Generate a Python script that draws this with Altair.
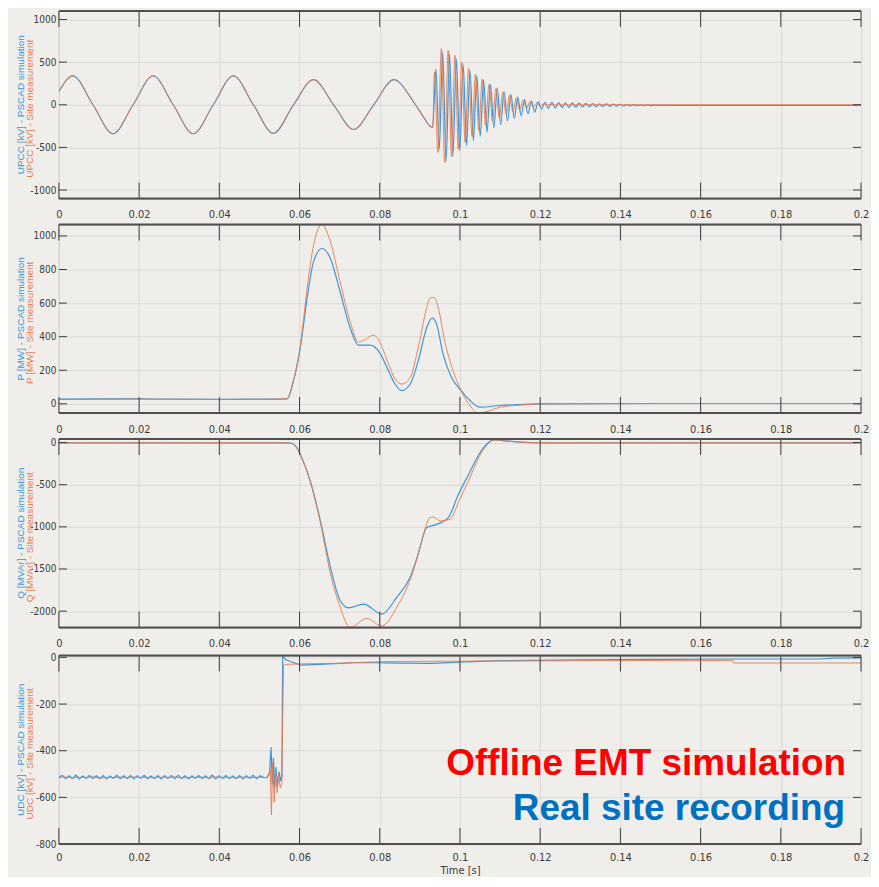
import altair as alt
import pandas as pd

BLUE = "#4095D7"
ORANGE = "#E87A4C"
BG = "#EFEEEB"
GRID = "#DADADA"
DARK = "#505050"
TICKC = "#3C3C3C"
LABC = "#3A3A3A"
FONT = "Liberation Sans Narrow, DejaVu Sans Condensed, Liberation Sans, sans-serif"

W = 804
HEIGHTS = [188, 189, 189, 189]
X_TICKS = [0, 0.02, 0.04, 0.06, 0.08, 0.1, 0.12, 0.14, 0.16, 0.18, 0.2]

# ---------------- Panel 1 : UPCC [kV] ----------------
PRE1_T = [0.0, 0.0035, 0.0085, 0.0135, 0.0185, 0.0235, 0.0285, 0.0335, 0.0385, 0.0435,
          0.0485, 0.0535, 0.0585, 0.0635, 0.0685, 0.0735, 0.0785, 0.0835, 0.0885, 0.0910,
          0.0925, 0.0932]
PRE1_V = [155, 340, 0, -340, 0, 340, 0, -340, 0, 340,
          0, -335, 0, 295, 0, -290, 0, 295, 30, -150,
          -250, -265]

OSC1_SIM_T = [0.0940, 0.09485, 0.0957, 0.09655, 0.0974, 0.09825, 0.0991, 0.09995, 0.1008, 0.10165,
              0.1025, 0.10335, 0.1042, 0.10505, 0.1059, 0.10675, 0.1076, 0.10845, 0.1093, 0.11015,
              0.1110, 0.11185, 0.1127, 0.11355, 0.1144, 0.11525, 0.1161, 0.11695, 0.1178, 0.11865,
              0.1195, 0.12035, 0.1212, 0.12205, 0.1229, 0.12375, 0.1246, 0.12545, 0.1263, 0.12715,
              0.1280, 0.12885, 0.1297, 0.13055, 0.1314, 0.13225, 0.1331, 0.13395, 0.1348, 0.13565,
              0.1365, 0.13735, 0.1382, 0.13905, 0.1399, 0.14075, 0.1416, 0.14245, 0.1433, 0.14415,
              0.1450, 0.14585, 0.1467, 0.14755, 0.1484, 0.14925, 0.1501, 0.15095, 0.1518, 0.1530,
              0.16, 0.18, 0.2]
OSC1_SIM_V = [420, -520, 620, -660, 600, -600, 540, -540, 470, -480,
              400, -420, 340, -370, 290, -320, 240, -270, 195, -230,
              155, -190, 120, -160, 90, -130, 65, -105, 45, -85,
              35, -50, 30, -42, 28, -36, 26, -32, 24, -30,
              22, -28, 20, -26, 18, -24, 15, -22, 12, -20,
              10, -18, 8, -16, 6, -14, 4, -12, 2, -11,
              0, -10, -2, -9, -3, -8, -4, -8, -5, -7,
              -6, -6, -6]

OSC1_MEAS_T = [0.09365, 0.0945, 0.09535, 0.0962, 0.09705, 0.0979, 0.09875, 0.0996, 0.10045, 0.1013,
               0.10215, 0.1030, 0.10385, 0.1047, 0.10555, 0.1064, 0.10725, 0.1081, 0.10895, 0.1098,
               0.11065, 0.1115, 0.11235, 0.1132, 0.11405, 0.1149, 0.11575, 0.1166, 0.11745, 0.1183,
               0.11915, 0.1200, 0.12085, 0.1217, 0.12255, 0.1234, 0.1245, 0.2]
OSC1_MEAS_V = [380, -560, 660, -680, 640, -610, 580, -520, 500, -440,
               430, -370, 360, -300, 300, -240, 240, -190, 190, -150,
               145, -115, 110, -85, 80, -60, 55, -40, 35, -25,
               20, -14, 10, -6, 4, -2, 0, 0]

# ---------------- Panel 2 : P [MW] ----------------
P_SIM_T = [0.0, 0.01, 0.02, 0.03, 0.04, 0.05, 0.0569, 0.0585, 0.0602, 0.0619,
           0.0635, 0.0656, 0.0677, 0.0701, 0.0726, 0.0747, 0.0776, 0.0797, 0.0818, 0.0838,
           0.0855, 0.0876, 0.0896, 0.0917, 0.0931, 0.0942, 0.0958, 0.0979, 0.1003, 0.1025,
           0.1050, 0.11, 0.115, 0.12, 0.15, 0.2]
P_SIM_V = [28, 29, 30, 28, 27, 28, 30, 138, 335, 630,
           847, 925, 866, 669, 453, 350, 350, 315, 217, 118,
           79, 118, 256, 453, 512, 472, 295, 157, 79, 20,
           -20, -10, -4, 0, 2, 2]

P_MEAS_T = [0.0, 0.01, 0.02, 0.03, 0.04, 0.05, 0.0569, 0.0585, 0.0602, 0.0619,
            0.0635, 0.0656, 0.0677, 0.0701, 0.0726, 0.0747, 0.0764, 0.0784, 0.0801, 0.0822,
            0.0838, 0.0855, 0.0876, 0.0896, 0.0917, 0.0925, 0.0935, 0.0946, 0.0962, 0.0983,
            0.1003, 0.1025, 0.1045, 0.1075, 0.11, 0.115, 0.12, 0.15, 0.2]
P_MEAS_V = [26, 27, 28, 27, 26, 27, 30, 140, 345, 689,
            945, 1067, 965, 728, 492, 368, 384, 409, 364, 236,
            148, 118, 157, 335, 571, 630, 634, 571, 374, 197,
            79, -10, -55, -40, -20, -8, 0, 2, 2]

# ---------------- Panel 3 : Q [MVAr] ----------------
Q_SIM_T = [0.0, 0.02, 0.04, 0.055, 0.0577, 0.0594, 0.0606, 0.0627, 0.0652, 0.0677,
           0.0701, 0.0722, 0.0760, 0.0805, 0.0843, 0.0876, 0.0896, 0.0917, 0.0938, 0.0971,
           0.0996, 0.1017, 0.1058, 0.1083, 0.11, 0.115, 0.12, 0.16, 0.2]
Q_SIM_V = [-4, -5, -4, -4, -8, -67, -185, -459, -929, -1478,
           -1871, -1961, -1918, -2035, -1832, -1596, -1322, -1008, -977, -890,
           -616, -420, -67, 31, 25, 5, -3, -4, -4]

Q_MEAS_T = [0.0, 0.02, 0.04, 0.055, 0.0577, 0.0594, 0.0606, 0.0627, 0.0652, 0.0677,
            0.0701, 0.0726, 0.0768, 0.0805, 0.0843, 0.0884, 0.0905, 0.0925, 0.0933, 0.0950,
            0.0975, 0.0999, 0.1017, 0.1058, 0.1087, 0.11, 0.115, 0.12, 0.16, 0.2]
Q_MEAS_V = [-2, -3, -2, -3, -8, -67, -185, -465, -950, -1557,
            -1949, -2193, -2087, -2176, -1949, -1517, -1165, -890, -882, -929,
            -910, -675, -498, -87, 31, 25, 5, -2, -3, -3]

# ---------------- Panel 4 : UDC [kV] ----------------
RIPPLE_SIM_T0 = 0.0
RIPPLE_SIM_DT = 0.00085
RIPPLE_SIM_V = [-513, -506, -520, -507, -519, -505, -521, -508, -518, -506,
                -520, -507, -519, -506, -521, -508, -518, -505, -520, -507,
                -519, -506, -521, -507, -518, -505, -520, -508, -519, -506,
                -521, -507, -518, -506, -520, -505, -519, -507, -521, -508,
                -518, -506, -520, -507, -519, -505, -521, -507, -518, -506,
                -520, -508, -519, -506, -521, -507, -518, -505, -520, -507,
                -514]
U_SIM_TAIL_T = [0.0518, 0.0525, 0.0529, 0.0532, 0.0535, 0.0538, 0.0541, 0.0545, 0.0549, 0.0553,
                0.0556, 0.0558, 0.0566, 0.0585, 0.0602, 0.065, 0.075, 0.085, 0.093, 0.1,
                0.11, 0.13, 0.15, 0.17, 0.19, 0.193, 0.2]
U_SIM_TAIL_V = [-515, -500, -385, -545, -430, -560, -470, -550, -490, -530,
                -505, 5, -10, -22, -33, -30, -22, -25, -26, -20,
                -14, -11, -9, -7, -7, -3, -2]

RIPPLE_MEAS_T0 = 0.0
RIPPLE_MEAS_DT = 0.0017
RIPPLE_MEAS_V = [-515, -512, -517, -513, -516, -512, -518, -514, -516, -513,
                 -517, -512, -516, -514, -517, -513, -516, -512, -517, -514,
                 -516, -513, -518, -512, -516, -514, -517, -513, -516, -514,
                 -515]
U_MEAS_TAIL_T = [0.0520, 0.0527, 0.0530, 0.0533, 0.0537, 0.0540, 0.0544, 0.0548, 0.0552, 0.0556,
                 0.0558, 0.0560, 0.0566, 0.06, 0.07, 0.081, 0.09, 0.1, 0.12, 0.14,
                 0.168, 0.1682, 0.2]
U_MEAS_TAIL_V = [-515, -480, -675, -450, -620, -480, -580, -500, -560, -540,
                 -280, -35, -30, -28, -25, -18, -17, -16, -15, -14,
                 -14, -24, -24]

PANELS = [
    dict(t_sim=PRE1_T + OSC1_SIM_T, v_sim=PRE1_V + OSC1_SIM_V,
         t_meas=PRE1_T + OSC1_MEAS_T, v_meas=PRE1_V + OSC1_MEAS_V,
         ydom=[-1100, 1100], yticks=[-1000, -500, 0, 500, 1000],
         name="UPCC [kV]", interp="monotone"),
    dict(t_sim=P_SIM_T, v_sim=P_SIM_V, t_meas=P_MEAS_T, v_meas=P_MEAS_V,
         ydom=[-55, 1068], yticks=[0, 200, 400, 600, 800, 1000],
         name="P [MW]", interp="monotone"),
    dict(t_sim=Q_SIM_T, v_sim=Q_SIM_V, t_meas=Q_MEAS_T, v_meas=Q_MEAS_V,
         ydom=[-2195, 42], yticks=[-2000, -1500, -1000, -500, 0],
         name="Q [MVAr]", interp="monotone"),
    dict(t_sim=[round(RIPPLE_SIM_T0 + i * RIPPLE_SIM_DT, 6) for i in range(len(RIPPLE_SIM_V))] + U_SIM_TAIL_T,
         v_sim=RIPPLE_SIM_V + U_SIM_TAIL_V,
         t_meas=[round(RIPPLE_MEAS_T0 + i * RIPPLE_MEAS_DT, 6) for i in range(len(RIPPLE_MEAS_V))] + U_MEAS_TAIL_T,
         v_meas=RIPPLE_MEAS_V + U_MEAS_TAIL_V,
         ydom=[-800, 8], yticks=[-800, -600, -400, -200, 0],
         name="UDC [kV]", interp="linear"),
]

ANNOT_1 = "Offline EMT simulation"
ANNOT_2 = "Real site recording"

one = pd.DataFrame({"a": [0]})
xt_df = pd.DataFrame({"t": X_TICKS})


def make_panel(p, h, last):
    xscale = alt.Scale(domain=[0, 0.2], nice=False, zero=False)
    yscale = alt.Scale(domain=p["ydom"], nice=False, zero=False)
    xaxis_kw = dict(values=X_TICKS, labelExpr="'' + datum.value", grid=True, gridColor=GRID,
                    gridWidth=1, ticks=False, tickSize=0, domain=False,
                    labelPadding=7 if last else 10,
                    labelFont=FONT, labelFontSize=11, labelColor=LABC, labelFlush=False)
    if last:
        xaxis_kw.update(titleFont=FONT, titleFontSize=11,
                        titleFontWeight="normal", titleColor=LABC, titlePadding=2)
    xtitle = "Time [s]" if last else None
    yaxis_kw = dict(values=p["yticks"], labelExpr="'' + datum.value", grid=True, gridColor=GRID,
                    gridWidth=1, ticks=False, tickSize=0, domain=False, labelPadding=3,
                    labelFont=FONT, labelFontSize=10, labelColor=LABC)

    def X(field="t"):
        return alt.X(f"{field}:Q", scale=xscale, axis=alt.Axis(**xaxis_kw), title=xtitle)

    def Y(field="v"):
        return alt.Y(f"{field}:Q", scale=yscale, axis=alt.Axis(**yaxis_kw), title=None)

    sim = pd.DataFrame({"t": p["t_sim"], "v": p["v_sim"]})
    meas = pd.DataFrame({"t": p["t_meas"], "v": p["v_meas"]})
    yt_df = pd.DataFrame({"v": p["yticks"]})

    layers = [
        alt.Chart(sim).mark_line(color=BLUE, strokeWidth=1.2, interpolate=p["interp"], clip=True)
        .encode(x=X(), y=Y()),
        alt.Chart(meas).mark_line(color=ORANGE, strokeWidth=1, opacity=0.9,
                                  interpolate=p["interp"], clip=True)
        .encode(x=X(), y=Y()),
        alt.Chart(xt_df).mark_rule(color=TICKC, strokeWidth=1)
        .encode(x=X(), y=alt.value(0), y2=alt.value(16)),
        alt.Chart(xt_df).mark_rule(color=TICKC, strokeWidth=1)
        .encode(x=X(), y=alt.value(h - 16), y2=alt.value(h)),
        alt.Chart(yt_df).mark_rule(color=TICKC, strokeWidth=1)
        .encode(y=Y(), x=alt.value(0), x2=alt.value(8)),
        alt.Chart(yt_df).mark_rule(color=TICKC, strokeWidth=1)
        .encode(y=Y(), x=alt.value(W - 8), x2=alt.value(W)),
        alt.Chart(one).mark_rule(color=DARK, strokeWidth=2)
        .encode(x=alt.value(0), x2=alt.value(W), y=alt.value(0)),
        alt.Chart(one).mark_rule(color=DARK, strokeWidth=2)
        .encode(x=alt.value(0), x2=alt.value(W), y=alt.value(h)),
        alt.Chart(one).mark_text(angle=270, font="Liberation Sans, Arial, sans-serif", fontSize=10,
                                 color=BLUE, align="center", baseline="middle",
                                 text=p["name"] + " - PSCAD simulation")
        .encode(x=alt.value(-38), y=alt.value(h / 2)),
        alt.Chart(one).mark_text(angle=270, font="Liberation Sans, Arial, sans-serif", fontSize=10,
                                 color=ORANGE, align="center", baseline="middle",
                                 text=p["name"] + " - Site measurement")
        .encode(x=alt.value(-29), y=alt.value(h / 2 + 4)),
    ]
    if last:
        layers.append(
            alt.Chart(one).mark_text(font="Liberation Sans, Arial, sans-serif", fontSize=37,
                                     fontWeight="bold", color="#FF0000", align="right",
                                     baseline="alphabetic", text=ANNOT_1)
            .encode(x=alt.value(789), y=alt.value(120)))
        layers.append(
            alt.Chart(one).mark_text(font="Liberation Sans, Arial, sans-serif", fontSize=37,
                                     fontWeight="bold", color="#0070C0", align="right",
                                     baseline="alphabetic", text=ANNOT_2)
            .encode(x=alt.value(788), y=alt.value(165)))
    return alt.layer(*layers).properties(width=W, height=h)


panels = [make_panel(p, h, i == len(PANELS) - 1) for i, (p, h) in enumerate(zip(PANELS, HEIGHTS))]

chart = (
    alt.vconcat(*panels, spacing=2)
    .properties(padding={"left": 7, "top": 0, "right": 1, "bottom": 0})
    .configure(background=BG)
    .configure_view(stroke="#9A9A9A", strokeWidth=1)
)

chart.save("out.html", embed_options={"renderer": "svg", "actions": False})
